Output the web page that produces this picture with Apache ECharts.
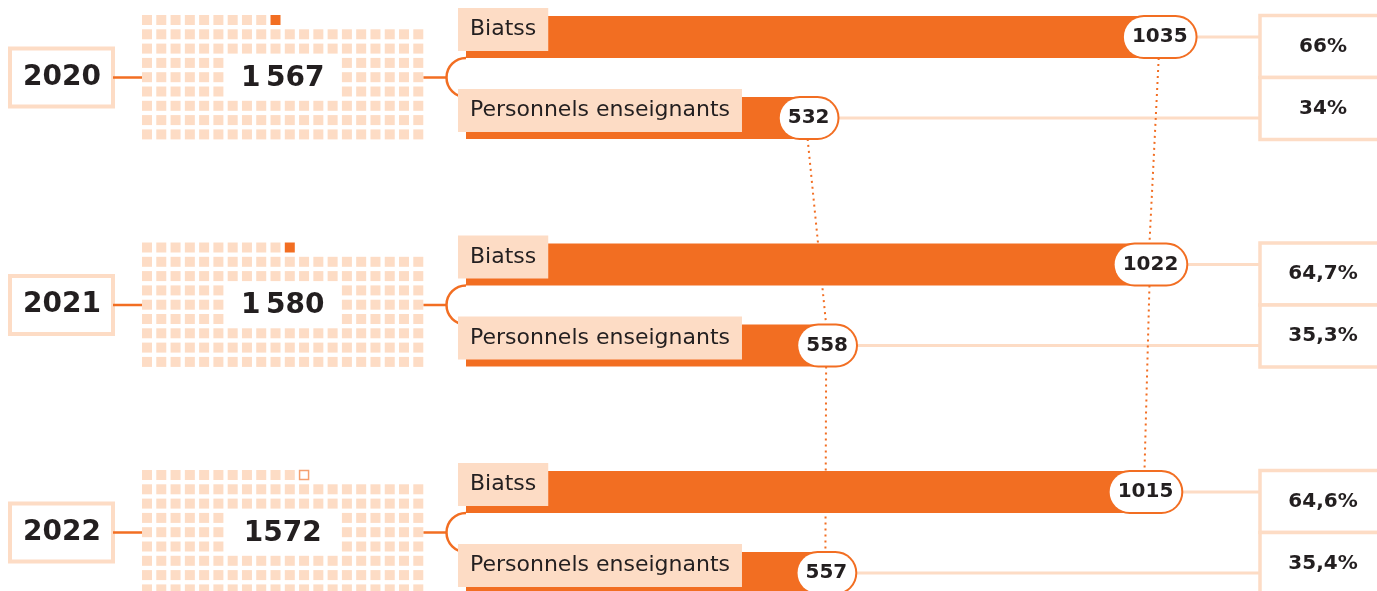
<!DOCTYPE html>
<html>
<head>
<meta charset="utf-8">
<script src="https://cdn.jsdelivr.net/npm/echarts@6/dist/echarts.min.js"></script>
<style>
  html, body { margin: 0; padding: 0; background: #fff; }
  #chart { width: 1377px; height: 591px; }
</style>
</head>
<body>
<div id="chart"></div>
<script>
// data
const years = ['2020', '2021', '2022'];
const categories = ['Biatss', 'Personnels enseignants'];
const biatss = [1035, 1022, 1015];
const enseignants = [532, 558, 557];
const totalLabels = ['1\u202F567', '1\u202F580', '1572'];
const biatssPct = ['66%', '64,7%', '64,6%'];
const enseignantsPct = ['34%', '35,3%', '35,4%'];
const topRowCells = [10, 11, 12];          // squares in the waffle's top row
const topRowMark = ['filled', 'filled', 'outline'];

const ORANGE = '#F26E22';
const PEACH = '#FDDCC5';
const INK = '#231F20';
const FONT = '"DejaVu Sans", sans-serif';

const PERIOD = 227.5;   // vertical step between years
const MID0 = 77.5;      // middle of the first year block

let chart = echarts.init(document.getElementById('chart'));

let grids = [], xAxes = [], yAxes = [], series = [];

years.forEach(function (yr, i) {
    let mid = MID0 + PERIOD * i;
    // bar grid: from the Biatss bar centre to the enseignants bar centre
    grids.push({ left: 466, right: 81, top: mid - 40.5, height: 81, outerBoundsMode: 'none' });
    xAxes.push({ type: 'value', gridIndex: i, min: 34, max: 1200, show: false });
    yAxes.push({ type: 'category', gridIndex: i, data: categories, inverse: true, boundaryGap: false, show: false });
});

years.forEach(function (yr, i) {
    let mid = MID0 + PERIOD * i;
    // waffle grid: cell centres
    grids.push({ left: 147, width: 271.3, top: mid - 57.5, height: 114.4, outerBoundsMode: 'none' });
    xAxes.push({ type: 'value', gridIndex: 3 + i, min: 0, max: 19, show: false });
    yAxes.push({ type: 'value', gridIndex: 3 + i, min: 0, max: 8, inverse: true, show: false });
});

years.forEach(function (yr, i) {
    series.push({
        type: 'bar',
        name: 'effectif',
        xAxisIndex: i,
        yAxisIndex: i,
        data: [biatss[i], enseignants[i]],
        barWidth: 42,
        barGap: '-100%',
        itemStyle: { color: ORANGE },
        label: {
            show: true,
            position: 'insideRight',
            offset: [22, 0],
            formatter: '{c}',
            fontFamily: FONT,
            fontSize: 20,
            fontWeight: 'bold',
            color: INK,
            lineHeight: 24,
            backgroundColor: '#fff',
            borderColor: ORANGE,
            borderWidth: 2,
            borderRadius: 21,
            padding: [8, 8]
        },
        silent: true
    });
    series.push({
        type: 'bar',
        name: 'categorie',
        xAxisIndex: i,
        yAxisIndex: i,
        data: [biatss[i], enseignants[i]],
        barWidth: 42,
        barGap: '-100%',
        itemStyle: { color: 'rgba(0,0,0,0)' },
        label: {
            show: true,
            position: 'insideLeft',
            offset: [-13, -7.5],
            formatter: '{b}',
            fontFamily: FONT,
            fontSize: 22,
            color: INK,
            lineHeight: 27,
            backgroundColor: PEACH,
            padding: [8, 12]
        },
        silent: true
    });

    // waffle squares
    let cells = [];
    for (let c = 0; c < topRowCells[i]; c++) {
        let last = c === topRowCells[i] - 1;
        if (!last) {
            cells.push([c, 0]);
        } else if (topRowMark[i] === 'filled') {
            cells.push({ value: [c, 0], itemStyle: { color: ORANGE } });
        } else {
            cells.push({ value: [c, 0], symbolSize: 9, itemStyle: { color: '#fff', borderColor: '#F5A070', borderWidth: 1.5 } });
        }
    }
    for (let r = 1; r <= 8; r++) {
        for (let c = 0; c < 20; c++) {
            if (r >= 3 && r <= 5 && c >= 6 && c <= 13) continue;   // room for the total
            cells.push([c, r]);
        }
    }
    series.push({
        type: 'scatter',
        xAxisIndex: 3 + i,
        yAxisIndex: 3 + i,
        symbol: 'rect',
        symbolSize: 10,
        itemStyle: { color: PEACH, opacity: 1 },
        data: cells,
        clip: false,
        silent: true
    });
});

chart.setOption({
    backgroundColor: '#fff',
    animation: false,
    grid: grids,
    xAxis: xAxes,
    yAxis: yAxes,
    series: series
});

// decorations placed from the chart's own scales
let ctx = document.createElement('canvas').getContext('2d');
ctx.font = 'bold 20px "DejaVu Sans"';
function pillCenter(v, endX) {
    let w = ctx.measureText(String(v)).width + 16 + 2;
    return endX + 17 - w / 2;
}

let g = [];
let pills = [];
years.forEach(function (yr, i) {
    let pB = chart.convertToPixel({ gridIndex: i }, [biatss[i], 0]);
    let pE = chart.convertToPixel({ gridIndex: i }, [enseignants[i], 1]);
    let yc = (pB[1] + pE[1]) / 2;
    let cellL = chart.convertToPixel({ gridIndex: 3 + i }, [0, 4]);
    let cellR = chart.convertToPixel({ gridIndex: 3 + i }, [19, 4]);
    let barL = chart.convertToPixel({ gridIndex: i }, [34, 0])[0];
    pills.push({ b: [pillCenter(biatss[i], pB[0]), pB[1]], e: [pillCenter(enseignants[i], pE[0]), pE[1]] });

    // year box
    g.push({ type: 'rect', shape: { x: 10, y: yc - 29, width: 103, height: 58 },
        style: { fill: '#fff', stroke: PEACH, lineWidth: 4 } });
    g.push({ type: 'text', style: { text: yr, x: 62, y: yc, align: 'center', verticalAlign: 'middle',
        font: 'bold 28px ' + FONT, fill: INK } });
    // orange links
    g.push({ type: 'line', shape: { x1: 113, y1: yc, x2: cellL[0] - 5, y2: yc },
        style: { stroke: ORANGE, lineWidth: 2.5 } });
    let r = (pE[1] - pB[1]) / 2 - 21;
    g.push({ type: 'line', shape: { x1: cellR[0] + 5, y1: yc, x2: barL - r, y2: yc },
        style: { stroke: ORANGE, lineWidth: 2.5 } });
    g.push({ type: 'arc', shape: { cx: barL, cy: yc, r: r, startAngle: Math.PI / 2, endAngle: Math.PI * 1.5, clockwise: true },
        style: { stroke: ORANGE, lineWidth: 2.5, fill: null } });
    // total in the waffle
    g.push({ type: 'text', style: { text: totalLabels[i], x: (cellL[0] + cellR[0]) / 2, y: yc + 1,
        align: 'center', verticalAlign: 'middle', font: 'bold 28px ' + FONT, fill: INK } });
    // peach links to the share boxes
    g.push({ type: 'line', shape: { x1: pB[0], y1: pB[1], x2: 1260, y2: pB[1] },
        style: { stroke: PEACH, lineWidth: 3 } });
    g.push({ type: 'line', shape: { x1: pE[0], y1: pE[1], x2: 1260, y2: pE[1] },
        style: { stroke: PEACH, lineWidth: 3 } });
    // share boxes
    g.push({ type: 'rect', shape: { x: 1260, y: yc - 62, width: 126, height: 62 },
        style: { fill: '#fff', stroke: PEACH, lineWidth: 3.5 } });
    g.push({ type: 'rect', shape: { x: 1260, y: yc, width: 126, height: 62 },
        style: { fill: '#fff', stroke: PEACH, lineWidth: 3.5 } });
    g.push({ type: 'text', style: { text: biatssPct[i], x: 1323, y: yc - 31, align: 'center', verticalAlign: 'middle',
        font: 'bold 20px ' + FONT, fill: INK } });
    g.push({ type: 'text', style: { text: enseignantsPct[i], x: 1323, y: yc + 31, align: 'center', verticalAlign: 'middle',
        font: 'bold 20px ' + FONT, fill: INK } });
});

// dotted lines joining the same category from one year to the next
for (let i = 0; i < years.length - 1; i++) {
    ['b', 'e'].forEach(function (k) {
        let a = pills[i][k], b = pills[i + 1][k];
        g.push({ type: 'line', shape: { x1: a[0], y1: a[1] + 21, x2: b[0], y2: b[1] - 21 },
            style: { stroke: ORANGE, lineWidth: 2, lineDash: [2, 4] } });
    });
}

chart.setOption({ graphic: { elements: g } });

window.addEventListener('resize', function () { chart.resize(); });
</script>
</body>
</html>
